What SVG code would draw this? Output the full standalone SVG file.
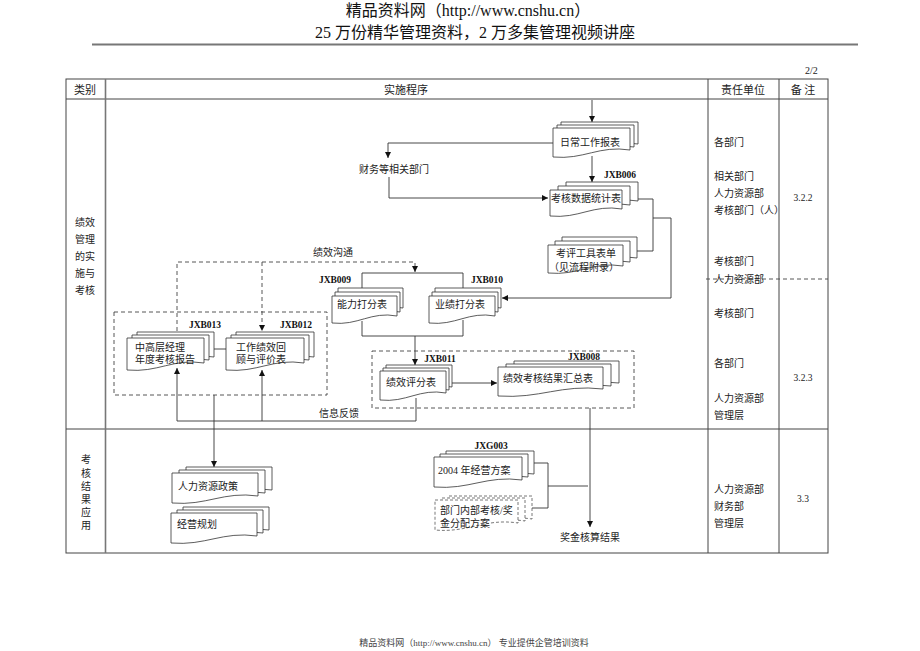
<svg xmlns="http://www.w3.org/2000/svg" width="920" height="651" viewBox="0 0 920 651">
<defs>
<style>
text{font-family:"Liberation Serif","Noto Sans CJK SC",serif;font-size:10px;fill:#222}
.t{font-size:16px;fill:#111}
.ft{font-size:9px;fill:#444}
.c{text-anchor:middle}
.lb{font-weight:bold;font-size:9.5px;text-anchor:middle;fill:#111}
.tbl{fill:none;stroke:#444;stroke-width:1}
.doc{fill:#fff;stroke:#333;stroke-width:0.8}
.ddoc{fill:#fff;stroke:#555;stroke-width:0.8;stroke-dasharray:3,2}
.ln{fill:none;stroke:#333;stroke-width:0.9}
.dl{fill:none;stroke:#444;stroke-width:0.9;stroke-dasharray:4,3}
.ar{marker-end:url(#ah)}
</style>
<marker id="ah" markerWidth="7" markerHeight="7" refX="6" refY="3" orient="auto" markerUnits="userSpaceOnUse">
<path d="M0,0L6,3L0,6Z" fill="#111"/>
</marker>
</defs>

<g id="page-header">
<text class="t c" x="468" y="16">精品资料网（http://www.cnshu.cn）</text>
<text class="t c" x="475" y="38">25 万份精华管理资料，2 万多集管理视频讲座</text>
<line x1="92" y1="44.5" x2="858" y2="44.5" stroke="#777" stroke-width="2"/>
<text x="805" y="74" style="font-size:10px">2/2</text>
</g>

<g id="table">
<rect class="tbl" x="66" y="79" width="762" height="474"/>
<line class="tbl" x1="66" y1="99" x2="828" y2="99"/>
<line class="tbl" x1="66" y1="429" x2="828" y2="429"/>
<line x1="105.5" y1="79" x2="105.5" y2="553" stroke="#777" stroke-width="1.6"/>
<line class="tbl" x1="708" y1="79" x2="708" y2="553"/>
<line class="tbl" x1="779" y1="79" x2="779" y2="553"/>
<line class="dl" x1="706" y1="279" x2="828" y2="279"/>
<text class="c" x="85" y="94" style="font-size:11px">类别</text>
<text class="c" x="406" y="94" style="font-size:11px">实施程序</text>
<text class="c" x="743" y="94" style="font-size:11px">责任单位</text>
<text class="c" x="803" y="94" style="font-size:11px">备 注</text>
<text class="c" x="85" y="226">绩效</text>
<text class="c" x="85" y="243">管理</text>
<text class="c" x="85" y="260">的实</text>
<text class="c" x="85" y="277">施与</text>
<text class="c" x="85" y="294">考核</text>
<text class="c" x="86" y="463">考</text>
<text class="c" x="86" y="477">核</text>
<text class="c" x="86" y="490">结</text>
<text class="c" x="86" y="503">果</text>
<text class="c" x="86" y="516">应</text>
<text class="c" x="86" y="529">用</text>
<text x="714" y="146">各部门</text>
<text x="714" y="180">相关部门</text>
<text x="714" y="197">人力资源部</text>
<text x="714" y="214">考核部门（人）</text>
<text x="714" y="265">考核部门</text>
<text x="714" y="283">人力资源部</text>
<text x="714" y="317">考核部门</text>
<text x="714" y="367">各部门</text>
<text x="714" y="402">人力资源部</text>
<text x="714" y="419">管理层</text>
<text x="714" y="493">人力资源部</text>
<text x="714" y="510">财务部</text>
<text x="714" y="527">管理层</text>
<text class="c" x="803" y="201" style="font-size:9.5px">3.2.2</text>
<text class="c" x="803" y="381" style="font-size:9.5px">3.2.3</text>
<text class="c" x="803" y="502" style="font-size:9.5px">3.3</text>
</g>

<g id="connectors">
<path class="ln ar" d="M592,100V122"/>
<path class="ln ar" d="M553,143H388V158"/>
<path class="ln ar" d="M389,177V198H548"/>
<path class="ln ar" d="M592,156V182"/>
<path class="ln" d="M638,199H653V251H637"/>
<path class="ln ar" d="M653,218H671V298H502"/>
<path class="dl ar" d="M177,331V262H415V272"/>
<path class="dl ar" d="M262,262V331"/>
<path class="ln" d="M362,288V273H463V288"/>
<path class="ln" d="M362,321V336H463V320"/>
<path class="ln ar" d="M415,336V365"/>
<path class="ln ar" d="M452,383H497"/>
<path class="ln" d="M214,349H226"/>
<path class="ln ar" d="M416,398V421H177V368"/>
<path class="ln ar" d="M262,421V370"/>
<path class="ln ar" d="M214,395V467"/>
<path class="ln" d="M534,463H548V508H532"/>
<path class="ln" d="M548,486H588"/>
<path class="ln ar" d="M590,408V527"/>
</g>

<g id="labels">
<text class="c" x="394" y="173">财务等相关部门</text>
<text class="c" x="333" y="256">绩效沟通</text>
<text class="c" x="339" y="417">信息反馈</text>
<text class="c" x="590" y="541">奖金核算结果</text>
</g>

<g id="n-daily">
<path class="doc" d="M561,122H638V144C607.2,139 591.8,154 561,151Z"/>
<path class="doc" d="M557,125H634V147C603.2,142 587.8,157 557,154Z"/>
<path class="doc" d="M553,128H630V150C599.2,145 583.8,160 553,157Z"/>
<text class="c" x="590" y="146">日常工作报表</text>
</g>

<g id="n-jxb006">
<path class="doc" d="M566,182H638V201C609.2,196 594.8,211 566,208Z"/>
<path class="doc" d="M558,186H630V205C601.2,200 586.8,215 558,212Z"/>
<path class="doc" d="M550,190H622V209C593.2,204 578.8,219 550,216Z"/>
<text class="c" x="586" y="202">考核数据统计表</text>
<text class="lb" x="620" y="178">JXB006</text>
</g>

<g id="n-tools">
<path class="doc" d="M562,237H637V258C607,253 592,268 562,265Z"/>
<path class="doc" d="M555,241H630V262C600,257 585,272 555,269Z"/>
<path class="doc" d="M548,245H623V266C593,261 578,276 548,273Z"/>
<text class="c" x="586" y="257">考评工具表单</text>
<text class="c" x="584" y="271">（见流程附录）</text>
</g>

<g id="n-jxb009">
<path class="doc" d="M338,288H403V308C377,303 364,318 338,315Z"/>
<path class="doc" d="M335,292H400V312C374,307 361,322 335,319Z"/>
<path class="doc" d="M332,296H397V316C371,311 358,326 332,323Z"/>
<text class="c" x="362" y="308">能力打分表</text>
<text class="lb" x="335" y="283">JXB009</text>
</g>

<g id="n-jxb010">
<path class="doc" d="M435,288H501V308C474.6,303 461.4,318 435,315Z"/>
<path class="doc" d="M432,292H498V312C471.6,307 458.4,322 432,319Z"/>
<path class="doc" d="M429,296H495V316C468.6,311 455.4,326 429,323Z"/>
<text class="c" x="460" y="308">业绩打分表</text>
<text class="lb" x="487" y="283">JXB010</text>
</g>

<g id="grp-jxb011">
<rect class="dl" x="372" y="351" width="262" height="57"/>
</g>

<g id="n-jxb011">
<path class="doc" d="M386,365H452V387C425.6,382 412.4,397 386,394Z"/>
<path class="doc" d="M383,368H449V390C422.6,385 409.4,400 383,397Z"/>
<path class="doc" d="M380,371H446V393C419.6,388 406.4,403 380,400Z"/>
<text class="c" x="411" y="386">绩效评分表</text>
<text class="lb" x="440" y="362">JXB011</text>
</g>

<g id="n-jxb008">
<path class="doc" d="M514,361H619V383C577,378 556,393 514,390Z"/>
<path class="doc" d="M506,364H611V386C569,381 548,396 506,393Z"/>
<path class="doc" d="M498,367H603V389C561,384 540,399 498,396Z"/>
<text class="c" x="548" y="382">绩效考核结果汇总表</text>
<text class="lb" x="584" y="360">JXB008</text>
</g>

<g id="grp-jxb013">
<rect class="dl" x="114" y="312" width="213" height="83"/>
</g>

<g id="n-jxb013">
<path class="doc" d="M137,332H214V357C183.2,352 167.8,367 137,364Z"/>
<path class="doc" d="M132,335H209V360C178.2,355 162.8,370 132,367Z"/>
<path class="doc" d="M127,338H204V363C173.2,358 157.8,373 127,370Z"/>
<text x="135" y="351">中高层经理</text>
<text x="135" y="363">年度考核报告</text>
<text class="lb" x="205" y="328">JXB013</text>
</g>

<g id="n-jxb012">
<path class="doc" d="M236,332H314V357C282.8,352 267.2,367 236,364Z"/>
<path class="doc" d="M231,335H309V360C277.8,355 262.2,370 231,367Z"/>
<path class="doc" d="M226,338H304V363C272.8,358 257.2,373 226,370Z"/>
<text x="236" y="351">工作绩效回</text>
<text x="236" y="363">顾与评价表</text>
<text class="lb" x="296" y="328">JXB012</text>
</g>

<g id="n-hr-policy">
<path class="doc" d="M186,467H272V490C237.6,485 220.4,500 186,497Z"/>
<path class="doc" d="M179,470H265V493C230.6,488 213.4,503 179,500Z"/>
<path class="doc" d="M172,473H258V496C223.6,491 206.4,506 172,503Z"/>
<text x="178" y="490">人力资源政策</text>
</g>

<g id="n-biz-plan">
<path class="doc" d="M183,507H269V530C234.6,525 217.4,540 183,537Z"/>
<path class="doc" d="M177,510H263V533C228.6,528 211.4,543 177,540Z"/>
<path class="doc" d="M171,513H257V536C222.6,531 205.4,546 171,543Z"/>
<text x="177" y="528">经营规划</text>
</g>

<g id="n-jxg003">
<path class="doc" d="M446,451H534V474C498.8,469 481.2,484 446,481Z"/>
<path class="doc" d="M440,454H528V477C492.8,472 475.2,487 440,484Z"/>
<path class="doc" d="M434,457H522V480C486.8,475 469.2,490 434,487Z"/>
<text x="438" y="474">2004 年经营方案</text>
<text class="lb" x="491" y="449">JXG003</text>
</g>

<g id="n-dept-bonus">
<path class="ddoc" d="M449,496H532V519C498.8,514 482.2,529 449,526Z"/>
<path class="ddoc" d="M442,498H525V521C491.8,516 475.2,531 442,528Z"/>
<path class="ddoc" d="M435,500H518V523C484.8,518 468.2,533 435,530Z"/>
<text x="440" y="514">部门内部考核/奖</text>
<text x="440" y="527">金分配方案</text>
</g>

<g id="page-footer">
<text class="ft c" x="474" y="646">精品资料网（http://www.cnshu.cn） 专业提供企管培训资料</text>
</g>
</svg>
